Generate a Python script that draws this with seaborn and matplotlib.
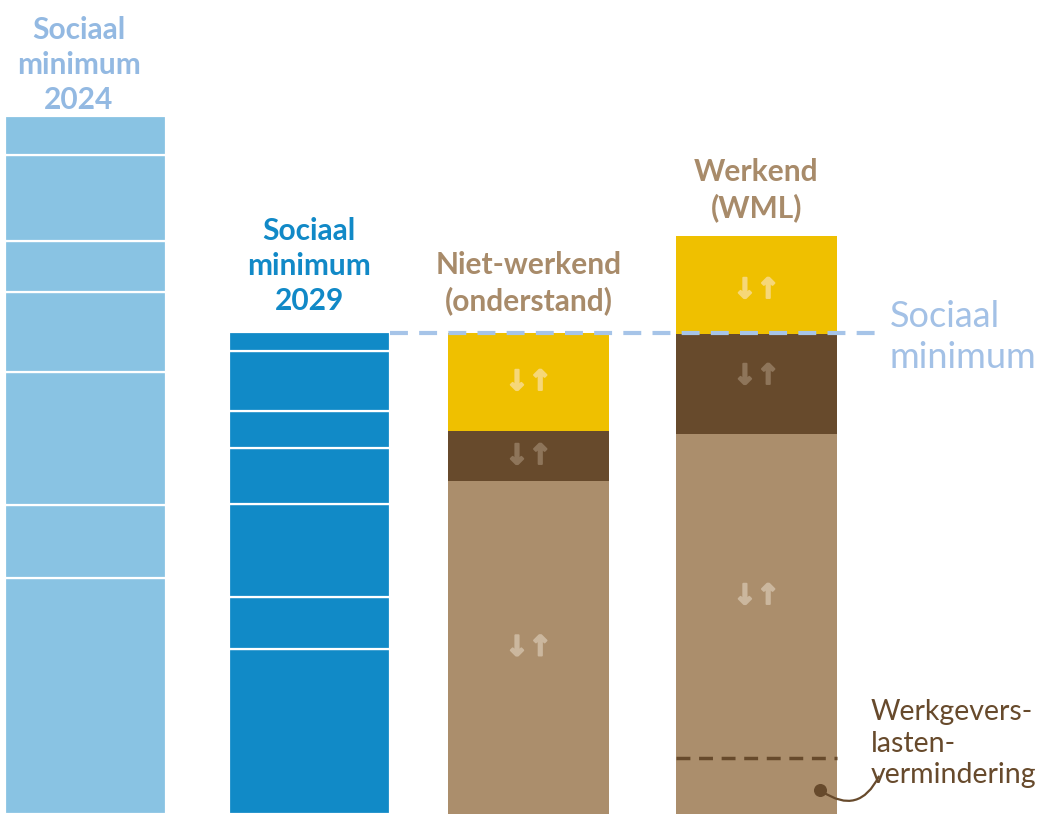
import numpy as np
import pandas as pd
import matplotlib
matplotlib.use("Agg")
import matplotlib.pyplot as plt
import matplotlib.patheffects as pe
import seaborn as sns

# segment heights, bottom to top (arbitrary units, image is 814 units tall)
min2024_parts = [236, 73, 133, 80, 51, 86, 39]
min2029_parts = [165, 52, 93, 56, 37, 60, 19]
nietwerkend_parts = [333, 50, 98]   # basis, middle, top
werkend_parts = [380, 100, 98]
wgl_level = 56                      # werkgeverslastenvermindering
sociaal_minimum = 481

bar_labels = ["Sociaal\nminimum\n2024", "Sociaal\nminimum\n2029",
              "Niet-werkend\n(onderstand)", "Werkend\n(WML)"]
label_colors = ["#93b9e2", "#1189c7", "#a88b6a", "#a88b6a"]

LIGHT_BLUE = "#89c3e3"
BLUE = "#118ac7"
YELLOW = "#efc000"
DARK_BROWN = "#674a2c"
LIGHT_BROWN = "#ab8e6c"
ARROW_COLORS = {YELLOW: "#f6d778", DARK_BROWN: "#8e755a", LIGHT_BROWN: "#cbb79e"}

sns.set_theme(style="white")
plt.rcParams["font.family"] = ["Lato", "DejaVu Sans"]

fig = plt.figure(figsize=(10.39, 8.14), dpi=100)
ax = fig.add_axes([0, 0, 1, 1])
px = 223.67
ax.set_xlim(-85.5 / px, (1039 - 85.5) / px)
ax.set_ylim(0, 814)
ax.set_axis_off()

width = 161 / px
xpos = [0, 1, 1.981, 3]

def stack(x, parts, colors, edge):
    bottom = 0
    for h, c in zip(parts, colors):
        ax.bar(x, h, bottom=bottom, width=width, color=c,
               edgecolor=edge, linewidth=1.6 if edge != "none" else 0)
        bottom += h

stack(xpos[0], min2024_parts, [LIGHT_BLUE] * len(min2024_parts), "white")
stack(xpos[1], min2029_parts, [BLUE] * len(min2029_parts), "white")
brown_cols = [LIGHT_BROWN, DARK_BROWN, YELLOW]
stack(xpos[2], nietwerkend_parts, brown_cols, "none")
stack(xpos[3], werkend_parts, brown_cols, "none")

# down/up arrow pair inside a segment
def arrows(x, y, col):
    c = ARROW_COLORS[col]
    ax.text(x, y, "\u2193\u2191", ha="center", va="center", fontsize=20,
            fontweight="bold", color=c, family="DejaVu Sans",
            path_effects=[pe.withStroke(linewidth=1.4, foreground=c)])

cum = np.cumsum([0] + nietwerkend_parts)
for i, c in enumerate(brown_cols):
    arrows(xpos[2], (cum[i] + cum[i + 1]) / 2, c)
cum = np.cumsum([0] + werkend_parts)
arrows(xpos[3], (wgl_level + cum[1]) / 2, LIGHT_BROWN)
arrows(xpos[3], (cum[1] + cum[2]) / 2 + 8, DARK_BROWN)
arrows(xpos[3], (cum[2] + cum[3]) / 2 - 5, YELLOW)

# werkgeverslastenvermindering line
ax.plot([xpos[3] - width / 2, xpos[3] + width / 2], [wgl_level, wgl_level],
        color=DARK_BROWN, linewidth=2.5, dashes=(4, 2.5))

# sociaal minimum line
x_start = xpos[1] + width / 2
x_end = (882 - 85.5) / px
ax.plot([x_start, x_end], [sociaal_minimum, sociaal_minimum], color="#a6c4e8",
        linewidth=3, dashes=(4.3, 2.7), zorder=5)
ax.text((890 - 85.5) / px, sociaal_minimum - 4, "Sociaal\nminimum", ha="left",
        va="center", fontsize=26, color="#a3c1e6", linespacing=1.3)

# bar titles
tops = [sum(min2024_parts), sum(min2029_parts), sum(nietwerkend_parts), sum(werkend_parts)]
gaps = [2, 17, 18, 14]
for i, (lab, col, top) in enumerate(zip(bar_labels, label_colors, tops)):
    ax.text(xpos[i] - (0.03 if i == 0 else 0), top + gaps[i], lab, ha="center",
            va="bottom", fontsize=21.5, fontweight="bold", color=col,
            linespacing=1.3)

# annotation
dot_x = (820 - 85.5) / px
ax.scatter([dot_x], [24], s=70, color=DARK_BROWN, zorder=6)
ax.annotate("", xy=(dot_x, 24), xytext=((880 - 85.5) / px, 40),
            arrowprops=dict(arrowstyle="-", color=DARK_BROWN, linewidth=1.6,
                            connectionstyle="arc3,rad=-0.6"))
ax.text((871 - 85.5) / px, 115, "Werkgevers-\nlasten-\nvermindering", ha="left",
        va="top", fontsize=20.5, color=DARK_BROWN, linespacing=1.27)

fig.savefig("out.png", dpi=100)
